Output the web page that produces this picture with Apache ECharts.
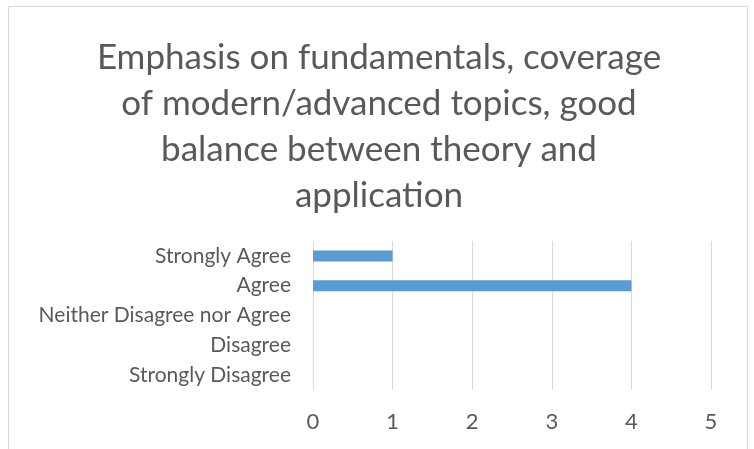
<!DOCTYPE html>
<html>
<head>
<meta charset="utf-8">
<script src="https://cdn.jsdelivr.net/npm/echarts@6/dist/echarts.min.js"></script>
<style>
  html, body { margin: 0; padding: 0; background: #fff; }
  #chart { width: 754px; height: 449px; }
</style>
</head>
<body>
<div id="chart"></div>
<script>
// answer categories, top to bottom
const categories = ['Strongly Agree', 'Agree', 'Neither Disagree nor Agree', 'Disagree', 'Strongly Disagree']
// number of responses
const counts = [1, 4, 0, 0, 0]
const titleText = 'Emphasis on fundamentals, coverage\nof modern/advanced topics, good\nbalance between theory and\napplication'

const textColor = '#595959'
const fontFamily = 'Lato, "Open Sans", sans-serif'

const chart = echarts.init(document.getElementById('chart'))
chart.setOption({
  animation: false,
  textStyle: { fontFamily },
  title: {
    text: titleText,
    left: 374,
    top: 30,
    textAlign: 'center',
    textStyle: {
      color: textColor,
      fontSize: 35,
      fontWeight: 'normal',
      lineHeight: 46,
      fontFamily
    }
  },
  graphic: [{
    type: 'rect',
    shape: { x: 8.5, y: 6.5, width: 739, height: 470 },
    style: { fill: 'none', stroke: '#d9d9d9', lineWidth: 1 },
    silent: true
  }],
  grid: {
    left: 313,
    right: 43,
    top: 241,
    bottom: 59
  },
  xAxis: {
    type: 'value',
    min: 0,
    max: 5,
    interval: 1,
    axisLine: { show: false },
    axisTick: { show: false },
    splitLine: { lineStyle: { color: '#d9d9d9', width: 1 } },
    axisLabel: { color: textColor, fontSize: 22, margin: 21 }
  },
  yAxis: {
    type: 'category',
    data: categories,
    inverse: true,
    axisLine: { show: false },
    axisTick: { show: false },
    splitLine: { show: false },
    axisLabel: { color: textColor, fontSize: 21, margin: 22 }
  },
  series: [{
    type: 'bar',
    data: counts,
    barWidth: 11,
    itemStyle: { color: '#5b9bd5' }
  }]
})
</script>
</body>
</html>
